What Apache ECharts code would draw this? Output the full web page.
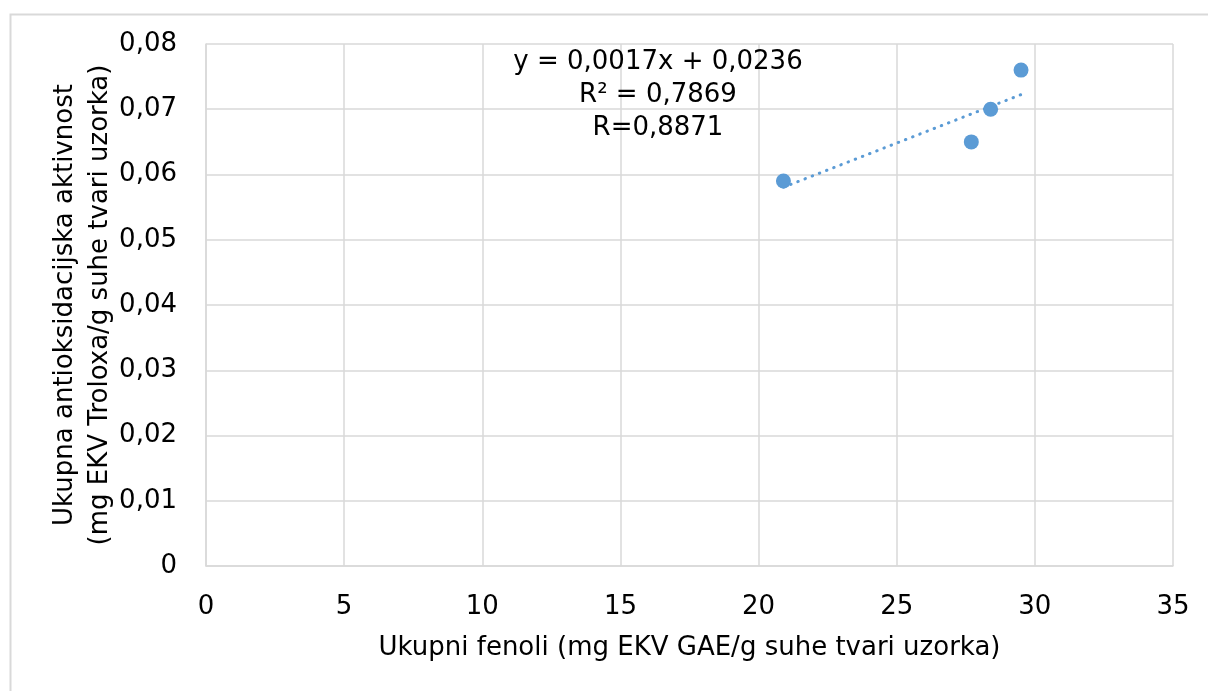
<!DOCTYPE html>
<html>
<head>
<meta charset="utf-8">
<script src="https://cdn.jsdelivr.net/npm/echarts@6/dist/echarts.min.js"></script>
<style>
html,body{margin:0;padding:0;background:#fff;}
#chart{width:1208px;height:691px;}
</style>
</head>
<body>
<div id="chart"></div>
<script>
// Data
var phenols = [20.9, 27.7, 28.4, 29.5];          // x: Ukupni fenoli
var antioxidant = [0.059, 0.065, 0.070, 0.076];  // y: antioksidacijska aktivnost
var xTickLabels = ['0', '5', '10', '15', '20', '25', '30', '35'];
var yTickLabels = ['0', '0,01', '0,02', '0,03', '0,04', '0,05', '0,06', '0,07', '0,08'];
var equationLines = ['y = 0,0017x + 0,0236', 'R² = 0,7869', 'R=0,8871'];
var xTitle = 'Ukupni fenoli (mg EKV GAE/g suhe tvari uzorka)';
var yTitleLines = ['Ukupna antioksidacijska aktivnost', '(mg EKV Troloxa/g suhe tvari uzorka)'];

// Least-squares linear trendline (as the spreadsheet computes it)
var n = phenols.length, mx = 0, my = 0;
for (var i = 0; i < n; i++) { mx += phenols[i]; my += antioxidant[i]; }
mx /= n; my /= n;
var sxy = 0, sxx = 0;
for (var i = 0; i < n; i++) { sxy += (phenols[i]-mx)*(antioxidant[i]-my); sxx += (phenols[i]-mx)*(phenols[i]-mx); }
var slope = sxy / sxx, intercept = my - slope * mx;
var xMin = Math.min.apply(null, phenols), xMax = Math.max.apply(null, phenols);
var trend = [[xMin, slope*xMin + intercept], [xMax, slope*xMax + intercept]];

var points = phenols.map(function (x, i) { return [x, antioxidant[i]]; });

var FONT = 'DejaVu Sans';
var chart = echarts.init(document.getElementById('chart'));
chart.setOption({
  backgroundColor: '#ffffff',
  animation: false,
  textStyle: { fontFamily: FONT },
  grid: { left: 206, right: 35, top: 44, bottom: 125, containLabel: false },
  xAxis: {
    type: 'value', min: 0, max: 35, interval: 5,
    name: xTitle, nameLocation: 'middle', nameGap: 69, nameMoveOverlap: false,
    nameTextStyle: { fontFamily: FONT, fontSize: 26, color: '#000' },
    axisLine: { show: true, lineStyle: { color: '#d9d9d9', width: 1.5 } },
    axisTick: { show: false },
    axisLabel: { fontFamily: FONT, fontSize: 26, color: '#000', margin: 28,
      formatter: function (v) { return xTickLabels[Math.round(v/5)]; } },
    splitLine: { show: true, lineStyle: { color: '#d9d9d9', width: 1.5 } }
  },
  yAxis: {
    type: 'value', min: 0, max: 0.08, interval: 0.01,
    name: yTitleLines.join('\n'), nameLocation: 'middle', nameGap: 88, nameMoveOverlap: false,
    nameTextStyle: { fontFamily: FONT, fontSize: 26, color: '#000', lineHeight: 35 },
    axisLine: { show: true, lineStyle: { color: '#d9d9d9', width: 1.5 } },
    axisTick: { show: false },
    axisLabel: { fontFamily: FONT, fontSize: 26, color: '#000', margin: 29,
      formatter: function (v) { return yTickLabels[Math.round(v/0.01)]; } },
    splitLine: { show: true, lineStyle: { color: '#d9d9d9', width: 1.5 } }
  },
  graphic: [
    { type: 'rect', left: 8, top: 12, z: 100, silent: true,
      shape: { x: 0, y: 0, width: 1250, height: 720 },
      style: { fill: 'none', stroke: '#d9d9d9', lineWidth: 2 } },
    { type: 'text', z: 100, silent: true,
      style: { x: 658, y: 46, text: equationLines.join('\n'), fill: '#000',
        font: '26px "DejaVu Sans"', align: 'center', textAlign: 'center',
        verticalAlign: 'top', lineHeight: 33 } }
  ],
  series: [
    { type: 'line', data: trend, symbol: 'none', z: 3, silent: true,
      lineStyle: { color: '#5b9bd5', width: 3, type: [0.5, 7.2], cap: 'round' } },
    { type: 'scatter', data: points, symbol: 'circle', symbolSize: 15, z: 4,
      itemStyle: { color: '#5b9bd5', opacity: 1 } }
  ]
});
</script>
</body>
</html>
